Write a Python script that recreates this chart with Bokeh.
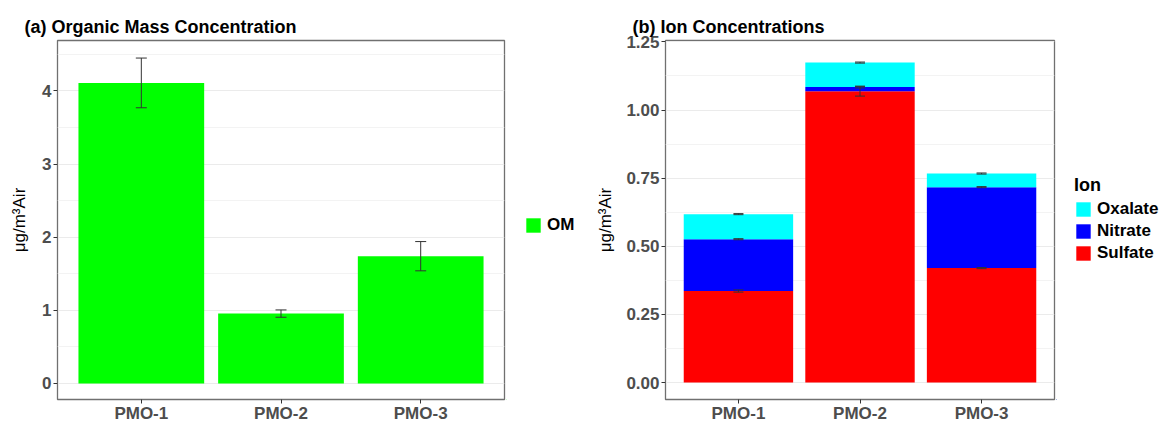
from bokeh.plotting import figure
from bokeh.models import (ColumnDataSource, Range1d, FixedTicker, Whisker, TeeHead,
                          Legend, LegendItem, NumeralTickFormatter)
from bokeh.layouts import row
from bokeh.embed import file_html
from bokeh.resources import INLINE

# ---------------- data ----------------
categories = ["PMO-1", "PMO-2", "PMO-3"]
om_mean = [4.11, 0.955, 1.74]
om_err = [0.34, 0.05, 0.20]

sulfate = [0.336, 1.069, 0.420]
nitrate = [0.190, 0.015, 0.297]
oxalate = [0.092, 0.090, 0.050]
sulfate_err = [0.004, 0.018, 0.002]
nitrate_err = [0.002, 0.003, 0.002]
oxalate_err = [0.002, 0.002, 0.002]

om_ticks = [0, 1, 2, 3, 4]
om_minor = [0.5, 1.5, 2.5, 3.5, 4.5]
ion_ticks = [0.0, 0.25, 0.5, 0.75, 1.0, 1.25]
ion_minor = [0.125, 0.375, 0.625, 0.875, 1.125]

ion_names = ["Sulfate", "Nitrate", "Oxalate"]
ion_colors = ["#FF0000", "#0000FF", "#00FFFF"]
om_color = "#00FF00"

FONT = "Liberation Sans"
xs = [i + 1 for i in range(len(categories))]


def style(p, ticks, minor, label_standoff):
    p.xaxis.ticker = FixedTicker(ticks=xs)
    p.xaxis.major_label_overrides = {x: c for x, c in zip(xs, categories)}
    p.yaxis.ticker = FixedTicker(ticks=ticks, minor_ticks=minor)
    for ax in (p.xaxis[0], p.yaxis[0]):
        ax.axis_line_color = None
        ax.major_tick_line_color = "#333333"
        ax.major_tick_out = 4
        ax.major_tick_in = 0
        ax.minor_tick_line_color = None
        ax.major_label_text_font = FONT
        ax.major_label_text_font_size = "17px"
        ax.major_label_text_font_style = "bold"
        ax.major_label_text_color = "#4d4d4d"
        ax.major_label_standoff = 2
    p.xaxis.major_label_standoff = 0
    p.yaxis.axis_label = "μg/m³Air"
    p.yaxis.axis_label_text_font = FONT
    p.yaxis.axis_label_text_font_size = "17px"
    p.yaxis.axis_label_text_font_style = "normal"
    p.yaxis.axis_label_text_color = "#000000"
    p.yaxis.axis_label_standoff = label_standoff
    p.xgrid.grid_line_color = None
    p.ygrid.grid_line_color = "#ebebeb"
    p.ygrid.minor_grid_line_color = "#f3f3f3"
    p.outline_line_color = "#707070"
    p.outline_line_width = 1.3
    p.title.align = "left"
    p.title.offset = -33
    p.title.standoff = 8
    p.title.text_font = FONT
    p.title.text_font_size = "18px"
    p.title.text_font_style = "bold"
    p.title.text_color = "#000000"


def legend_fig(width):
    # a blank strip that only carries a legend; its glyph proxies sit out of view
    f = figure(width=width, height=425, x_range=Range1d(100, 101), y_range=Range1d(100, 101),
               output_backend="svg", toolbar_location=None,
               x_axis_location=None, y_axis_location=None,
               min_border=0, min_border_left=0, min_border_right=0,
               min_border_top=0, min_border_bottom=0)
    f.outline_line_color = None
    f.grid.grid_line_color = None
    return f


LEG_STYLE = dict(glyph_width=18, glyph_height=18, label_height=18, label_standoff=5,
                 spacing=2, padding=0, margin=0, border_line_color=None,
                 background_fill_alpha=0, label_text_font=FONT,
                 label_text_font_size="17px", label_text_font_style="bold",
                 label_text_color="#000000")

# ---------------- panel (a) ----------------
p1 = figure(width=506, height=425, x_range=Range1d(0.4, 3.6), y_range=Range1d(-0.22, 4.69),
            output_backend="svg", toolbar_location=None,
            title="(a)  Organic Mass Concentration",
            min_border_left=57, min_border_right=2, min_border_top=40, min_border_bottom=24)
style(p1, om_ticks, om_minor, 10)

src_a = ColumnDataSource(dict(x=xs, top=om_mean,
                              lower=[m - e for m, e in zip(om_mean, om_err)],
                              upper=[m + e for m, e in zip(om_mean, om_err)]))
p1.vbar(x="x", top="top", width=0.9, source=src_a, fill_color=om_color, line_color=None)
w1 = Whisker(base="x", lower="lower", upper="upper", source=src_a, line_color="#333333",
             line_width=1,
             upper_head=TeeHead(size=11, line_color="#333333", line_width=1),
             lower_head=TeeHead(size=11, line_color="#333333", line_width=1),
             level="annotation")
p1.add_layout(w1)

# legend (a) in its own strip
la = legend_fig(74)
ra = la.vbar(x="x", top="top", width=0.9, source=ColumnDataSource(dict(x=xs, top=om_mean)),
             fill_color=om_color, line_color=None)
la.add_layout(Legend(items=[LegendItem(label="OM", renderers=[ra])],
                     location=(18, 164), **LEG_STYLE))

# ---------------- panel (b) ----------------
p2 = figure(width=476, height=425, x_range=Range1d(0.4, 3.6), y_range=Range1d(-0.062, 1.255),
            output_backend="svg", toolbar_location=None,
            title="(b)  Ion Concentrations",
            min_border_left=85, min_border_right=2, min_border_top=38, min_border_bottom=24)
style(p2, ion_ticks, ion_minor, 8)
p2.yaxis.formatter = NumeralTickFormatter(format="0.00")

src_b = ColumnDataSource(dict(x=xs, sulfate=sulfate, nitrate=nitrate, oxalate=oxalate))
p2.vbar_stack(["sulfate", "nitrate", "oxalate"], x="x", width=0.9, source=src_b,
              fill_color=ion_colors, line_color=None)

tops_s = list(sulfate)
tops_n = [s + n for s, n in zip(sulfate, nitrate)]
tops_o = [s + n + o for s, n, o in zip(sulfate, nitrate, oxalate)]
wx, wlo, whi = [], [], []
for tops, errs in ((tops_s, sulfate_err), (tops_n, nitrate_err), (tops_o, oxalate_err)):
    for x, t, e in zip(xs, tops, errs):
        wx.append(x)
        wlo.append(t - e)
        whi.append(t + e)
src_w = ColumnDataSource(dict(x=wx, lower=wlo, upper=whi))
w2 = Whisker(base="x", lower="lower", upper="upper", source=src_w, line_color="#333333",
             line_width=1,
             upper_head=TeeHead(size=10, line_color="#333333", line_width=1),
             lower_head=TeeHead(size=10, line_color="#333333", line_width=1),
             level="annotation")
p2.add_layout(w2)

# legend (b) in its own strip
lb = legend_fig(104)
src_lb = ColumnDataSource(dict(x=xs, sulfate=sulfate, nitrate=nitrate, oxalate=oxalate))
proxies = lb.vbar_stack(["sulfate", "nitrate", "oxalate"], x="x", width=0.9, source=src_lb,
                        fill_color=ion_colors, line_color=None)
items_b = [LegendItem(label=name, renderers=[r])
           for name, r in reversed(list(zip(ion_names, proxies)))]
lb.add_layout(Legend(items=items_b, location=(18, 136), title="Ion", title_standoff=3,
                     title_text_font=FONT, title_text_font_size="18px",
                     title_text_font_style="bold", title_text_color="#000000", **LEG_STYLE))

layout = row(p1, la, p2, lb, spacing=0)
open("out.html", "w").write(file_html(layout, INLINE))
